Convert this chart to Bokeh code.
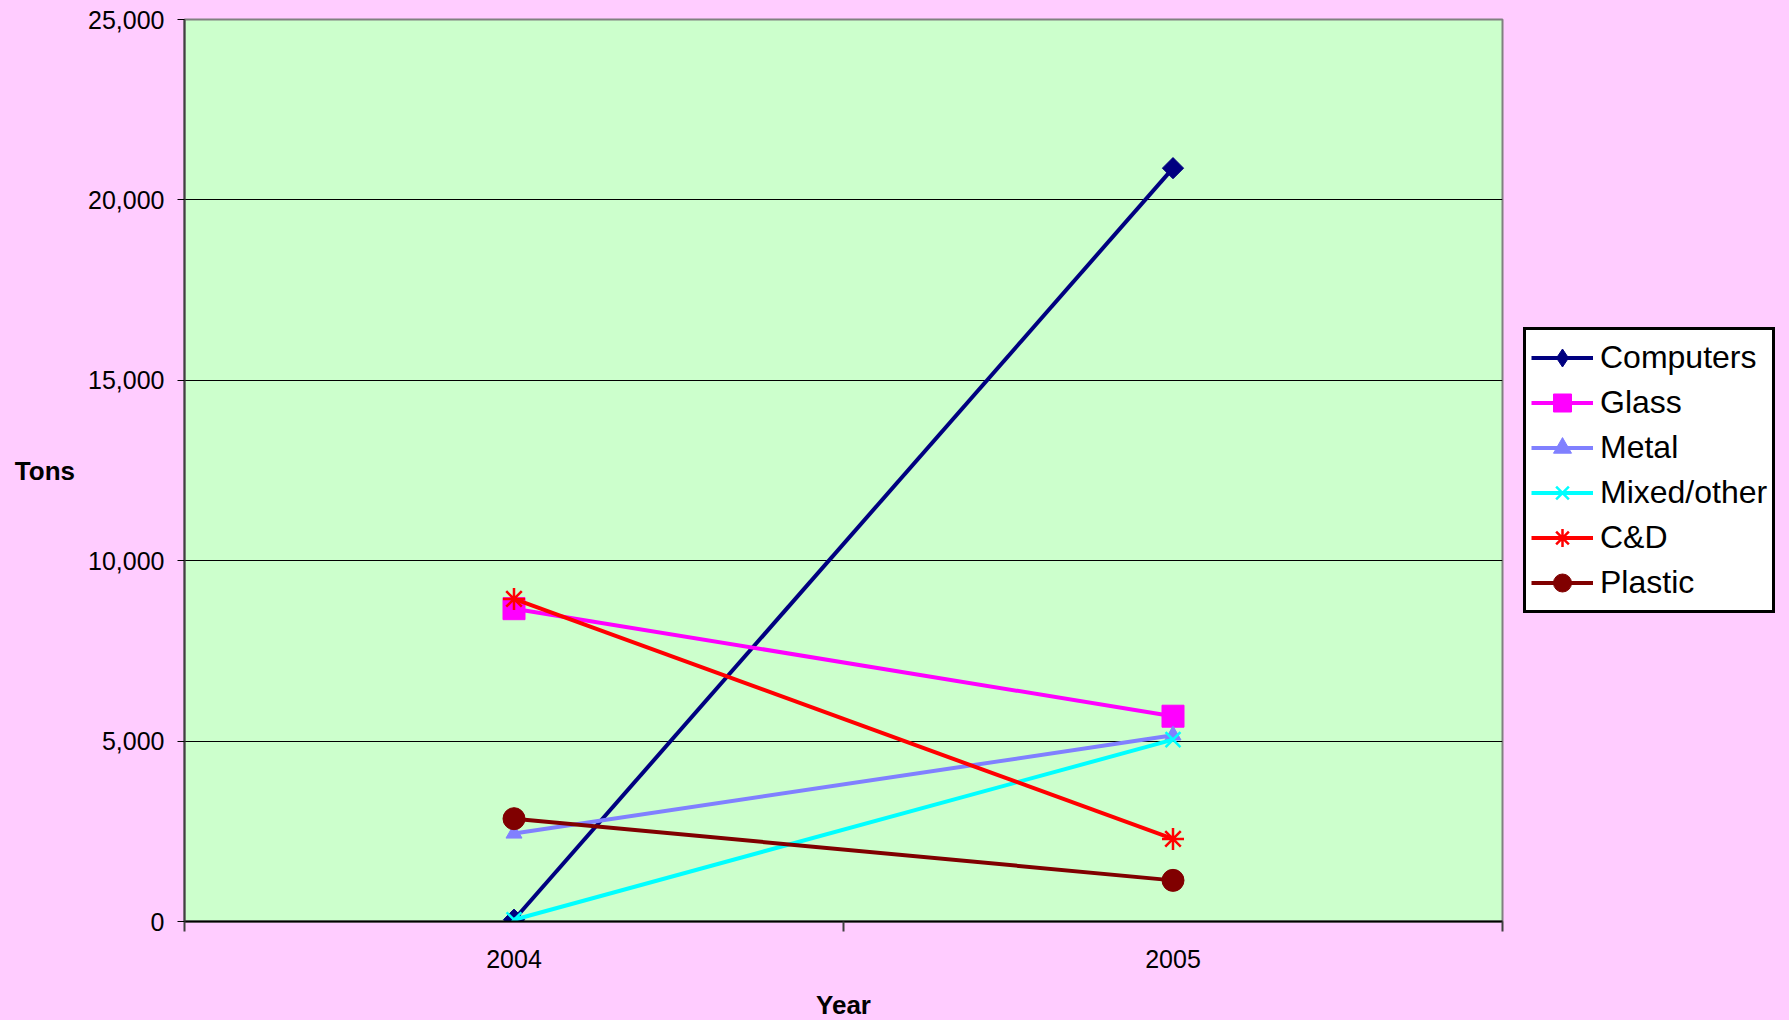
import math
from bokeh.plotting import figure
from bokeh.models import Range1d, FixedTicker, NumeralTickFormatter, Legend, LegendItem
from bokeh.embed import file_html
from bokeh.resources import INLINE

years = ["2004", "2005"]
computers = [50, 20880]
glass = [8670, 5690]
metal = [2440, 5160]
mixed = [50, 5040]
cd = [8940, 2290]
plastic = [2850, 1140]

# name, values, colour, plot marker, size, angle, marker line width, legend marker, legend size
series = [
    ("Computers", computers, "#000080", "square", 15, math.pi / 4, 1, "diamond", 19),
    ("Glass", glass, "#FF00FF", "square", 22, 0, 1, None, None),
    ("Metal", metal, "#8080FF", "triangle", 16, 0, 1, None, None),
    ("Mixed/other", mixed, "#00FFFF", "x", 21, 0, 2.5, None, None),
    ("C&D", cd, "#FF0000", "asterisk", 22, 0, 2.5, None, None),
    ("Plastic", plastic, "#800000", "circle", 22, 0, 1, None, None),
]

xs = [i + 0.5 for i in range(len(years))]
FONT = "Liberation Sans"

p = figure(frame_width=1318, frame_height=902, output_backend="svg", toolbar_location=None,
           x_range=Range1d(0, len(years)), y_range=Range1d(0, 25000),
           min_border_left=184, min_border_right=0, min_border_top=19, min_border_bottom=99)
p.background_fill_color = "#CCFFCC"
p.border_fill_color = "#FFCCFF"
p.outline_line_color = "#808080"
p.outline_line_width = 2

items = []
for name, vals, color, marker, size, angle, lw, lmarker, lsize in series:
    r1 = p.line(xs, vals, line_color=color, line_width=4)
    rl = None
    if lmarker is not None:
        # legend-shaped marker, hidden beneath the rotated square in the plot
        rl = p.scatter(xs, vals, marker=lmarker, size=lsize, fill_color=color,
                       line_color=color, line_width=lw)
    r2 = p.scatter(xs, vals, marker=marker, size=size, angle=angle, fill_color=color,
                   line_color=color, line_width=lw)
    items.append(LegendItem(label=name, renderers=[r1, rl if rl is not None else r2]))

# x axis
xa = p.xaxis[0]
xa.ticker = FixedTicker(ticks=xs, minor_ticks=list(range(len(years) + 1)))
xa.major_label_overrides = {x: y for x, y in zip(xs, years)}
xa.major_tick_out = 0
xa.major_tick_in = 0
xa.minor_tick_out = 10
xa.minor_tick_in = 0
xa.minor_tick_line_color = "#404040"
xa.minor_tick_line_width = 2
xa.axis_line_color = "#000000"
xa.axis_line_width = 2
xa.major_label_standoff = 18
xa.major_label_text_font = FONT
xa.major_label_text_font_size = "25px"
xa.major_label_text_color = "#000000"
xa.axis_label = "Year"
xa.axis_label_text_font = FONT
xa.axis_label_text_font_size = "26px"
xa.axis_label_text_font_style = "bold"
xa.axis_label_text_color = "#000000"
xa.axis_label_standoff = 19

# y axis
ya = p.yaxis[0]
ya.ticker = FixedTicker(ticks=[0, 5000, 10000, 15000, 20000, 25000])
ya.formatter = NumeralTickFormatter(format="0,0")
ya.major_tick_out = 7
ya.major_tick_in = 0
ya.minor_tick_out = 0
ya.minor_tick_in = 0
ya.major_tick_line_color = "#000000"
ya.axis_line_color = "#404040"
ya.axis_line_width = 2
ya.major_label_standoff = 13
ya.major_label_text_font = FONT
ya.major_label_text_font_size = "25px"
ya.major_label_text_color = "#000000"
ya.axis_label = "Tons"
ya.axis_label_orientation = "horizontal"
ya.axis_label_text_font = FONT
ya.axis_label_text_font_size = "26px"
ya.axis_label_text_font_style = "bold"
ya.axis_label_text_color = "#000000"
ya.axis_label_standoff = 10

p.xgrid.grid_line_color = None
p.ygrid.ticker = FixedTicker(ticks=[5000, 10000, 15000, 20000])
p.ygrid.grid_line_color = "#000000"
p.ygrid.grid_line_width = 1

lg = Legend(items=items, location="left")
lg.border_line_color = "#000000"
lg.border_line_alpha = 1
lg.border_line_width = 3
lg.background_fill_color = "#FFFFFF"
lg.background_fill_alpha = 1
lg.label_text_font = FONT
lg.label_text_font_size = "32px"
lg.label_text_color = "#000000"
lg.label_height = 45
lg.glyph_height = 45
lg.glyph_width = 62
lg.label_standoff = 7
lg.spacing = 0
lg.padding = 5
lg.margin = 21
p.add_layout(lg, "right")

html = file_html(p, INLINE)
html = html.replace("</head>", "<style>html, body { overflow: hidden; background-color: #FFCCFF; }</style></head>", 1)
open("out.html", "w").write(html)
